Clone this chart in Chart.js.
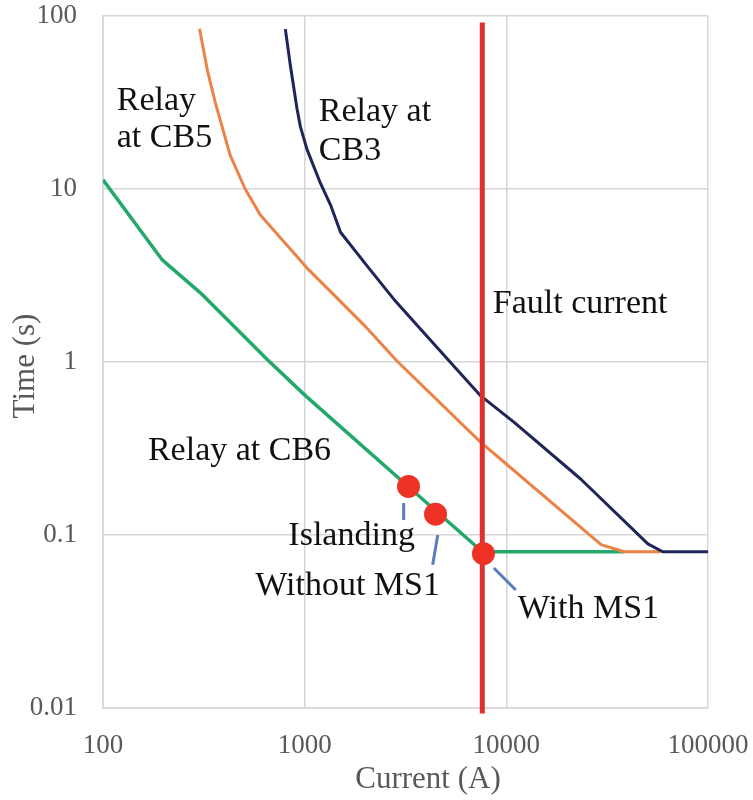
<!DOCTYPE html>
<html>
<head>
<meta charset="utf-8">
<script src="https://cdn.jsdelivr.net/npm/chart.js@4.4.1/dist/chart.umd.min.js"></script>
<style>
  body { margin: 0; background: #fff; }
  #tcc { display: block; }
</style>
</head>
<body>
<canvas id="tcc" width="753" height="800"></canvas>
<script>
// axis ticks (decades only)
var currentTicks = [100, 1000, 10000, 100000];
var timeTicks = [0.01, 0.1, 1, 10, 100];

// relay at CB6 (green)
var cb6Current = [100, 196, 304, 652, 1011, 3270, 7600, 38300];
var cb6Time    = [11.3, 3.91, 2.51, 1.035, 0.637, 0.19, 0.08, 0.08];

// relay at CB5 (orange)
var cb5Current = [301, 330, 360, 427, 507, 603, 787, 1028, 1449, 1964, 2877, 7470, 9377, 29500, 38300, 58000];
var cb5Time    = [84.4, 48, 31.8, 15.7, 10, 7.08, 4.97, 3.49, 2.34, 1.64, 1.01, 0.343, 0.274, 0.088, 0.08, 0.08];

// relay at CB3 (navy)
var cb3Current = [802, 849, 916, 952, 1028, 1197, 1343, 1506, 2043, 2773, 3761, 5104, 7470, 10940, 23440, 50330, 59600, 100000];
var cb3Time    = [84, 51.9, 29.2, 22.96, 16.9, 10.8, 8.1, 5.62, 3.58, 2.30, 1.545, 1.04, 0.637, 0.448, 0.21, 0.0889, 0.08, 0.08];

// fault current line
var faultCurrent = [7600, 7600];
var faultTime    = [0.0093, 91.8];

// operating points: Islanding, Without MS1, With MS1
var opCurrent = [3273, 4456, 7700];
var opTime    = [0.191, 0.132, 0.078];

// text labels: [text, current at left edge, time at baseline]
var labels = [
  ['Relay', 117, 28.6],
  ['at CB5', 117, 17.5],
  ['Relay at', 1175, 24.7],
  ['CB3', 1175, 14.7],
  ['Fault current', 8570, 1.92],
  ['Relay at CB6', 167, 0.272],
  ['Islanding', 830, 0.0875],
  ['Without MS1', 569, 0.045],
  ['With MS1', 11400, 0.0331]
];

// leader lines from labels to points: [x1, y1, x2, y2]
var leaders = [
  [3097, 0.153, 3097, 0.122],
  [4570, 0.1, 4313, 0.0672],
  [8670, 0.0644, 11140, 0.0481]
];

function pts(xs, ys) {
  return xs.map(function(x, i) { return {x: x, y: ys[i]}; });
}

var serif = "'Liberation Serif', 'Times New Roman', serif";

var textPlugin = {
  id: 'textPlugin',
  afterDatasetsDraw: function(chart) {
    var ctx = chart.ctx, sx = chart.scales.x, sy = chart.scales.y;
    ctx.save();
    ctx.strokeStyle = '#5b7cbf';
    ctx.lineWidth = 3;
    leaders.forEach(function(l) {
      ctx.beginPath();
      ctx.moveTo(sx.getPixelForValue(l[0]), sy.getPixelForValue(l[1]));
      ctx.lineTo(sx.getPixelForValue(l[2]), sy.getPixelForValue(l[3]));
      ctx.stroke();
    });
    ctx.fillStyle = '#111';
    ctx.font = '34px ' + serif;
    ctx.textAlign = 'left';
    ctx.textBaseline = 'alphabetic';
    labels.forEach(function(t) {
      ctx.fillText(t[0], sx.getPixelForValue(t[1]), sy.getPixelForValue(t[2]));
    });
    // axis titles
    ctx.fillStyle = '#595959';
    ctx.font = '31px ' + serif;
    ctx.textAlign = 'center';
    ctx.textBaseline = 'middle';
    ctx.fillText('Current (A)', 428, 780);
    ctx.translate(26, 366);
    ctx.rotate(-Math.PI / 2);
    ctx.fillText('Time (s)', 0, 0);
    ctx.restore();
  }
};

var tickFont = {family: serif, size: 27};

function curve(label, xs, ys, color, width, order) {
  return {
    label: label,
    data: pts(xs, ys),
    showLine: true,
    borderColor: color,
    borderWidth: width,
    borderJoinStyle: 'round',
    pointRadius: 0,
    tension: 0,
    order: order
  };
}

new Chart(document.getElementById('tcc').getContext('2d'), {
  type: 'scatter',
  data: {
    datasets: [
      {
        label: 'Operating points',
        data: pts(opCurrent, opTime),
        showLine: false,
        pointRadius: 11.5,
        pointBackgroundColor: '#ee3226',
        pointBorderWidth: 0,
        order: 0
      },
      {
        label: 'Fault current',
        data: pts(faultCurrent, faultTime),
        showLine: true,
        borderColor: '#e1302c',
        borderWidth: 5,
        pointRadius: 0,
        clip: false,
        order: 1
      },
      curve('Relay at CB3', cb3Current, cb3Time, '#1f2459', 3, 2),
      curve('Relay at CB5', cb5Current, cb5Time, '#ec8346', 3, 3),
      curve('Relay at CB6', cb6Current, cb6Time, '#22a86b', 3.5, 4)
    ]
  },
  options: {
    responsive: false,
    animation: false,
    layout: {padding: {top: 16, right: 45, left: 0, bottom: 0}},
    plugins: {
      legend: {display: false},
      tooltip: {enabled: false}
    },
    scales: {
      x: {
        type: 'logarithmic',
        min: 100,
        max: 100000,
        afterBuildTicks: function(s) { s.ticks = currentTicks.map(function(v) { return {value: v}; }); },
        afterFit: function(s) { s.height = 92; s.paddingLeft = 0; s.paddingRight = 0; },
        grid: {color: '#d6d6d6', lineWidth: 1.5, drawTicks: false},
        border: {color: '#d6d6d6', width: 1.5},
        ticks: {
          font: tickFont, color: '#595959', padding: 22, maxRotation: 0, autoSkip: false,
          callback: function(v) { return String(v); }
        }
      },
      y: {
        type: 'logarithmic',
        min: 0.01,
        max: 100,
        afterBuildTicks: function(s) { s.ticks = timeTicks.map(function(v) { return {value: v}; }); },
        afterFit: function(s) { s.width = 103; s.paddingTop = 0; s.paddingBottom = 0; },
        grid: {color: '#d6d6d6', lineWidth: 1.5, drawTicks: false},
        border: {color: '#d6d6d6', width: 1.5},
        ticks: {
          font: tickFont, color: '#595959', padding: 26, autoSkip: false,
          callback: function(v) { return String(v); }
        }
      }
    }
  },
  plugins: [textPlugin]
});
</script>
</body>
</html>
